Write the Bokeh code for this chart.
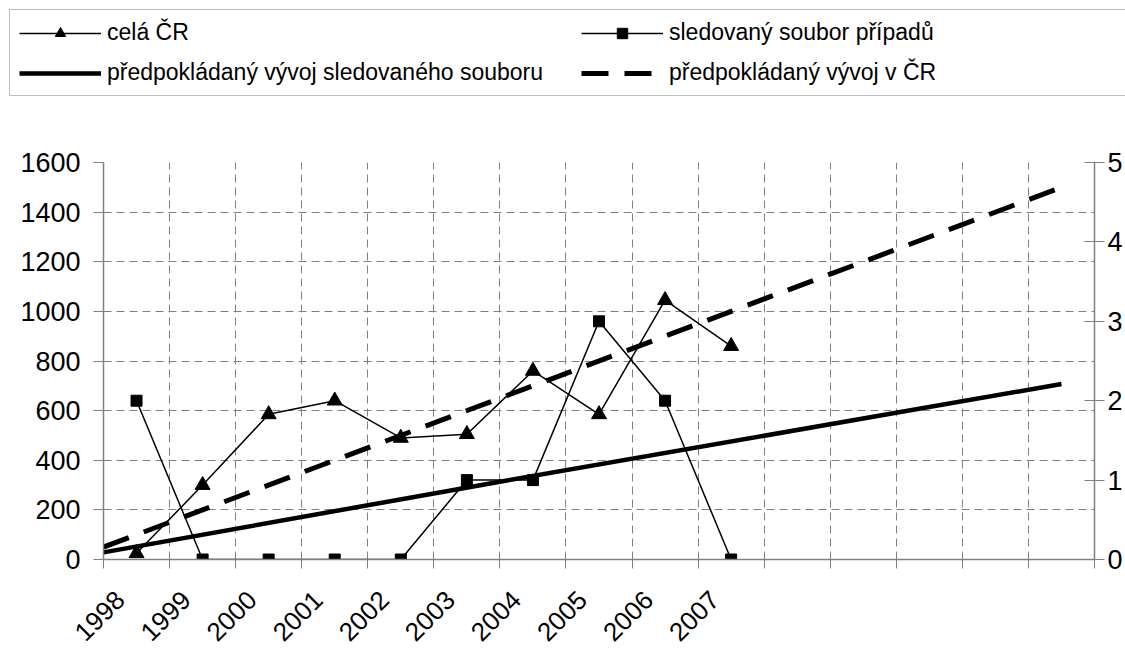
import math
from bokeh.plotting import figure
from bokeh.layouts import column
from bokeh.models import Range1d, LinearAxis, FixedTicker, Legend, LegendItem
from bokeh.embed import file_html
from bokeh.resources import INLINE

# ---- data ----
years = [1998, 1999, 2000, 2001, 2002, 2003, 2004, 2005, 2006, 2007]
year_labels = ["1998", "1999", "2000", "2001", "2002", "2003", "2004", "2005", "2006", "2007"]
cela_cr = [25, 300, 585, 640, 490, 505, 760, 585, 1045, 860]          # left axis
sledovany = [2, 0, 0, 0, 0, 1, 1, 3, 2, 0]                             # right axis
trend_cr_years = [1997.5, 2012.0]
trend_cr_values = [50, 1500]                                            # left axis
trend_sled_years = [1997.5, 2003.5, 2012.0]
trend_sled_values = [0.09, 0.98, 2.21]                                  # right axis
left_ticks = [0, 200, 400, 600, 800, 1000, 1200, 1400, 1600]
right_ticks = [0, 1, 2, 3, 4, 5]
x_first, x_last = 1997.5, 2012.5
labels = ["celá ČR", "sledovaný soubor případů",
          "předpokládaný vývoj sledovaného souboru", "předpokládaný vývoj v ČR"]

FONT = "Liberation Sans"
GREY = "#808080"
LABEL_SHIFT = 0.25  # rotated year labels end a little left of the category centre
W, H = 1125, 652
LEG_H = 100

boundaries = [x_first + i for i in range(int(x_last - x_first) + 1)]


def draw_series(fig, right=None):
    """Draw the four series into fig; returns the renderers."""
    rk = right or {}
    r_ts = fig.line(trend_sled_years, trend_sled_values, line_color="black", line_width=4.5, **rk)
    r_tc = fig.line(trend_cr_years, trend_cr_values, line_color="black", line_width=5,
                    line_dash="27 16")
    r_cl = fig.line(years, cela_cr, line_color="black", line_width=1.5)
    r_cm = fig.scatter(years, cela_cr, marker="triangle", size=15, color="black")
    r_sl = fig.line(years, sledovany, line_color="black", line_width=1.5, **rk)
    r_sm = fig.scatter(years, sledovany, marker="square", size=11, color="black", **rk)
    return r_ts, r_tc, r_cl, r_cm, r_sl, r_sm


# ================= main chart =================
p = figure(width=W, height=H - LEG_H, output_backend="svg", toolbar_location=None,
           x_range=Range1d(x_first, x_last), y_range=Range1d(left_ticks[0], left_ticks[-1]),
           min_border_left=103, min_border_right=30, min_border_top=162 - LEG_H,
           min_border_bottom=92)
p.frame_align = False
p.extra_y_ranges = {"right": Range1d(right_ticks[0], right_ticks[-1])}
p.outline_line_color = None
p.background_fill_color = "white"
p.border_fill_color = "white"

p.xgrid.ticker = FixedTicker(ticks=boundaries)
p.ygrid.ticker = FixedTicker(ticks=left_ticks)
for g in (p.xgrid, p.ygrid):
    g.grid_line_color = GREY
    g.grid_line_dash = "8 5"
    g.grid_line_width = 1

label_pos = [y - LABEL_SHIFT for y in years]
xa = p.xaxis[0]
xa.ticker = FixedTicker(ticks=label_pos, minor_ticks=boundaries)
xa.major_label_overrides = {pos: txt for pos, txt in zip(label_pos, year_labels)}
xa.major_tick_out = 0
xa.major_tick_in = 0
xa.minor_tick_out = 9
xa.minor_tick_in = 0
xa.minor_tick_line_color = GREY
xa.axis_line_color = GREY
xa.axis_line_width = 1.5
xa.major_label_orientation = math.pi / 4
xa.major_label_standoff = 27
xa.major_label_text_font = FONT
xa.major_label_text_font_size = "26px"
xa.major_label_text_color = "black"

ya = p.yaxis[0]
ya.ticker = FixedTicker(ticks=left_ticks)
ya.major_tick_out = 10
ya.major_tick_in = 0
ya.minor_tick_out = 0
ya.minor_tick_in = 0
ya.major_tick_line_color = GREY
ya.axis_line_color = GREY
ya.axis_line_width = 1.5
ya.major_label_standoff = 13
ya.major_label_text_font = FONT
ya.major_label_text_font_size = "27px"
ya.major_label_text_color = "black"

ra = LinearAxis(y_range_name="right", ticker=FixedTicker(ticks=right_ticks))
ra.major_tick_out = 10
ra.major_tick_in = 10
ra.minor_tick_out = 0
ra.minor_tick_in = 0
ra.major_tick_line_color = GREY
ra.axis_line_color = GREY
ra.axis_line_width = 1.5
ra.major_label_standoff = 3
ra.major_label_text_font = FONT
ra.major_label_text_font_size = "27px"
ra.major_label_text_color = "black"
p.add_layout(ra, "right")

draw_series(p, right={"y_range_name": "right"})

# ================= legend strip =================
lf = figure(width=W, height=LEG_H, output_backend="svg", toolbar_location=None,
            x_axis_location=None, y_axis_location=None,
            x_range=Range1d(0, 1), y_range=Range1d(0, 1),  # series lie outside: only the legend shows
            min_border_left=0, min_border_right=0, min_border_top=0, min_border_bottom=0)
lf.frame_align = False
lf.grid.visible = False
lf.outline_line_color = None
lf.background_fill_color = "white"
lf.border_fill_color = "white"
l_ts, l_tc, l_cl, l_cm, l_sl, l_sm = draw_series(lf)

legend = Legend(items=[
    LegendItem(label=labels[0], renderers=[l_cl, l_cm]),
    LegendItem(label=labels[1], renderers=[l_sl, l_sm]),
    LegendItem(label=labels[2], renderers=[l_ts]),
    LegendItem(label=labels[3], renderers=[l_tc]),
], location=(9, 4), orientation="horizontal", ncols=2)
legend.border_line_color = GREY
legend.border_line_width = 1.5
legend.background_fill_color = "white"
legend.background_fill_alpha = 1
legend.padding = 9
legend.spacing = 13
legend.margin = 0
legend.glyph_width = 82
legend.glyph_height = 26
legend.label_standoff = 6
legend.label_width = 461
legend.label_height = 26
legend.label_text_font = FONT
legend.label_text_font_size = "23px"
legend.label_text_color = "black"
lf.add_layout(legend, "center")

page = column(lf, p, spacing=0)
open("out.html", "w").write(file_html(page, INLINE))
